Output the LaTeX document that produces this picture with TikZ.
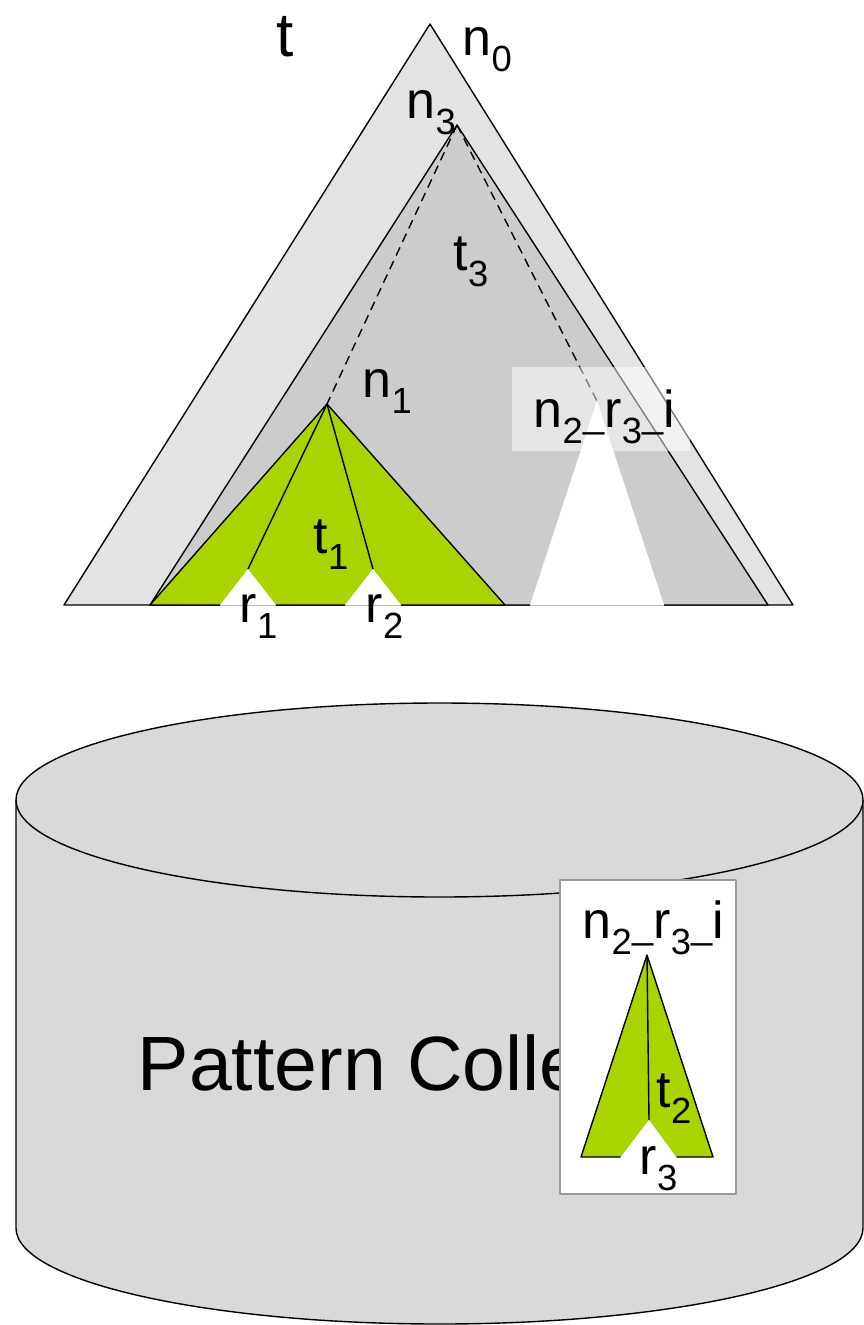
\documentclass[tikz,border=0pt]{standalone}
\usepackage{fontspec}
\setmainfont{Liberation Sans}
\usetikzlibrary{positioning}
\definecolor{outergray}{HTML}{E3E3E3}
\definecolor{innergray}{HTML}{CCCCCC}
\definecolor{cylgray}{HTML}{D9D9D9}
\definecolor{boxgray}{HTML}{999999}
\definecolor{leaf}{HTML}{A9D400}
\newcommand{\subbar}{{\fontsize{38}{40}\selectfont\_}}
\newcommand{\nri}{n\textsubscript{2}\subbar r\textsubscript{3}\subbar i}

\begin{document}
\begin{tikzpicture}[x=1pt, y=-1pt, line width=1.4pt, line join=round,
  lab/.style={anchor=base west, inner sep=0pt, font=\fontsize{52}{60}\selectfont},
  tri/.style={draw=black, fill=#1}]
  \useasboundingbox (0,0) rectangle (864,1325);
  % tree t and sub-tree t3
  \coordinate (n0) at (430,24);  \coordinate (oL) at (64,605);  \coordinate (oR) at (793,605);
  \coordinate (n3) at (457,125); \coordinate (iL) at (150,605); \coordinate (iR) at (768,605);
  \coordinate (n1) at (327,404); \coordinate (gR) at (505,605);
  \coordinate (r1) at (248,569); \coordinate (r2) at (373,569);
  \coordinate (n2) at (597,401); \coordinate (wL) at (530,605); \coordinate (wR) at (664,605);
  \draw[tri=outergray] (n0) -- (oL) -- (oR) -- cycle;
  \draw[tri=innergray] (n3) -- (iL) -- (iR) -- cycle;
  \draw[tri=leaf] (n1) -- (iL) -- (gR) -- cycle;
  \foreach \r in {r1,r2} \draw (n1) -- (\r);
  \foreach \r in {r1,r2} \fill[white] (\r) -- ++(-28,36) -- ++(56,0) -- cycle;
  \foreach \r in {r1,r2} \draw[gray!50, line width=0.8pt] (\r) ++(-28,36) -- ++(56,0);
  \fill[white] (n2) -- (wL) -- (wR) -- cycle;
  \draw[gray!50, line width=0.8pt] (wL) -- (wR);
  \draw[dashed, dash pattern=on 9pt off 6pt] (n3) -- (n1) (n3) -- (n2);
  \fill[white, opacity=0.5] (512,367) rectangle (690,451);
  \node[lab, font=\fontsize{62}{70}\selectfont] (t) at (276,56) {t};
  \node[lab] (ln0) at (462,55) {n\textsubscript{0}};
  \node[lab] (ln3) at (406,118) {n\textsubscript{3}};
  \node[lab] (lt3) at (453,270) {t\textsubscript{3}};
  \node[lab] (ln1) at (362,397) {n\textsubscript{1}};
  \node[lab] (ln2) at (533,427) {\nri};
  \node[lab] (lt1) at (313,553) {t\textsubscript{1}};
  \node[lab] (lr1) at (239,622) {r\textsubscript{1}};
  \node[lab] (lr2) at (365,622) {r\textsubscript{2}};
  % pattern collection
  \fill[cylgray] (16,800) -- (16,1228) arc[start angle=180, end angle=360, x radius=423.5pt, y radius=96pt] -- (863,800) -- cycle;
  \draw (16,800) -- (16,1228) arc[start angle=180, end angle=360, x radius=423.5pt, y radius=96pt] -- (863,800);
  \draw[fill=cylgray] (439.5,800) ellipse[x radius=423.5pt, y radius=97pt];
  \node[lab, font=\fontsize{77}{88}\selectfont] (pc) at (137,1090) {Pattern Colle};
  \draw[draw=boxgray, fill=white] (560,880) rectangle (736,1194);
  \coordinate (m) at (647,955); \coordinate (mL) at (581,1157); \coordinate (mR) at (713,1157);
  \coordinate (r3) at (649,1120);
  \draw[tri=leaf] (m) -- (mL) -- (mR) -- cycle;
  \draw (m) -- (r3);
  \fill[white] (r3) -- (620,1158) -- (677,1158) -- cycle;
  \node[lab] (bn2) at (582,938) {\nri};
  \node[lab] (lt2) at (656,1107) {t\textsubscript{2}};
  \node[lab] (lr3) at (639,1174) {r\textsubscript{3}};
\end{tikzpicture}
\end{document}
